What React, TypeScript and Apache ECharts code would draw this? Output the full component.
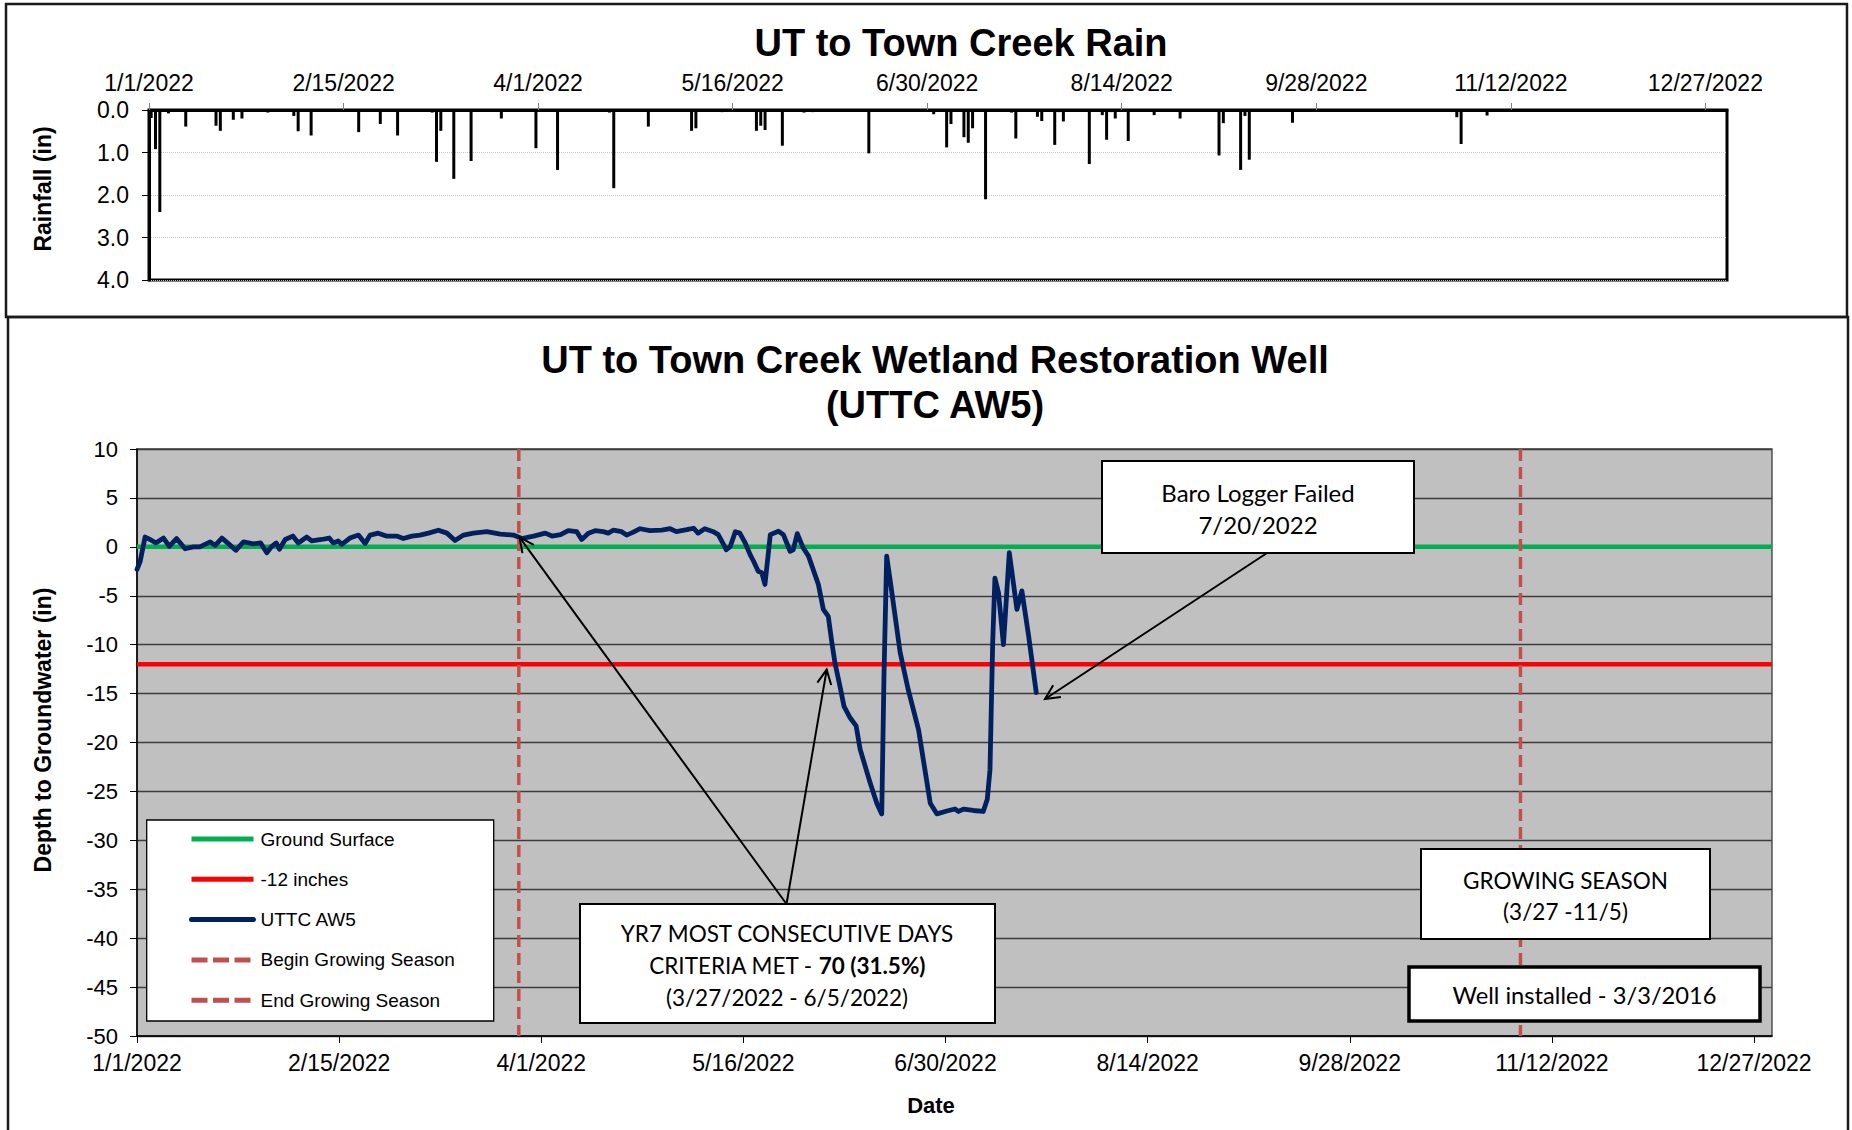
import React, { useEffect, useRef } from "react";
import * as echarts from "echarts";

// ---------- data ----------
const xTickLabels = ["1/1/2022", "2/15/2022", "4/1/2022", "5/16/2022", "6/30/2022", "8/14/2022", "9/28/2022", "11/12/2022", "12/27/2022"];
const dayInterval = 45;

// rainfall: day of year (0 = 1/1/2022) and inches
const rainDay = [0, 1, 2, 4, 8, 15, 16, 19, 21, 27, 33, 34, 37, 48, 53, 57, 65, 66, 67, 70, 74, 81, 89, 94, 101, 106, 107, 115, 125, 126, 132, 140, 141, 142, 146, 151, 153, 158, 162, 163, 166, 181, 183, 184, 185, 188, 189, 190, 193, 196, 199, 200, 205, 206, 209, 210, 211, 217, 220, 221, 222, 223, 226, 232, 238, 241, 247, 248, 252, 253, 254, 264, 284, 285, 298, 302, 303, 309];
const rainInches = [0.19, 0.92, 2.4, 0.08, 0.39, 0.37, 0.49, 0.23, 0.2, 0.06, 0.14, 0.5, 0.6, 0.52, 0.33, 0.6, 0.06, 1.22, 0.49, 1.62, 1.2, 0.2, 0.9, 1.41, 0.02, 0.06, 1.84, 0.39, 0.49, 0.43, 0.05, 0.49, 0.37, 0.47, 0.84, 0.06, 0.05, 0.03, 0.04, 0.04, 1.02, 0.1, 0.04, 0.88, 0.33, 0.64, 0.77, 0.43, 2.1, 0.03, 0.06, 0.67, 0.16, 0.26, 0.82, 0.05, 0.27, 1.27, 0.12, 0.7, 0.05, 0.2, 0.73, 0.12, 0.2, 0.03, 1.07, 0.31, 1.41, 0.14, 1.17, 0.3, 0.04, 0.03, 0.02, 0.17, 0.8, 0.13];

// well depth: day of year and inches
const wellDay = [0, 0.7, 1.8, 2.9, 4.2, 5.9, 7.2, 8.8, 10.7, 12.5, 14, 16.3, 17.4, 18.9, 20.4, 22, 23.7, 25.9, 27.5, 28.9, 30, 31, 31.7, 33, 34.7, 35.9, 37.8, 38.9, 41.1, 42.8, 43.7, 44.8, 45.6, 47.4, 49.3, 50.8, 51.9, 53.7, 55.5, 57.8, 59.3, 61.2, 63, 64.9, 67.1, 69, 70.8, 72.7, 74.9, 77.9, 80.9, 83.8, 85.7, 88.3, 90.9, 92.4, 94.3, 96, 97.9, 99, 100.5, 102, 103.8, 104.9, 106, 107.9, 109, 110.5, 112, 114.2, 116.8, 118.7, 120.1, 122.4, 123.9, 124.9, 126.4, 128.3, 129.4, 130.4, 131.2, 132.1, 133.2, 134.2, 135.4, 136.5, 137.3, 138.3, 139.1, 139.8, 141, 142.8, 143.9, 145.4, 146.1, 147, 148.3, 149.5, 151.7, 152.8, 153.9, 154.7, 155.4, 156.5, 157.4, 158.8, 160.1, 161, 163.2, 164.7, 165.8, 166.3, 166.9, 167.7, 169.9, 171.7, 174, 176.6, 178.1, 180.3, 182.1, 182.9, 184, 186.2, 188.4, 189.3, 189.9, 190.5, 191, 191.8, 192.9, 194.2, 195.9, 197, 198.5, 200.2];
const wellDepth = [-2.3, -1.5, 1.0, 0.75, 0.4, 0.9, 0.05, 0.85, -0.2, 0, 0, 0.5, 0.15, 0.9, 0.3, -0.35, 0.5, 0.3, 0.4, -0.6, 0.05, 0.4, -0.25, 0.75, 1.1, 0.4, 1.0, 0.6, 0.75, 0.9, 0.4, 0.6, 0.25, 0.9, 1.2, 0.35, 1.2, 1.4, 1.1, 1.1, 0.85, 1.1, 1.2, 1.4, 1.7, 1.4, 0.65, 1.2, 1.4, 1.55, 1.3, 1.2, 0.85, 1.1, 1.4, 1.1, 1.25, 1.65, 1.55, 0.75, 1.4, 1.65, 1.55, 1.4, 1.7, 1.55, 1.2, 1.5, 1.85, 1.65, 1.7, 1.85, 1.55, 1.75, 1.9, 1.4, 1.85, 1.55, 1.25, 0.4, -0.3, 0.05, 1.55, 1.4, 0.4, -0.8, -1.5, -2.5, -2.65, -3.85, 1.25, 1.6, 1.25, -0.45, -0.3, 1.35, -0.1, -0.95, -3.85, -6.4, -7.1, -9.8, -11.9, -14.25, -16.3, -17.5, -18.3, -20.7, -24.1, -26.2, -27.3, -13.2, -0.95, -3.5, -10.8, -14.6, -18.7, -26.2, -27.3, -27.0, -26.8, -27.05, -26.8, -26.95, -27.05, -25.8, -22.8, -9.8, -3.2, -4.7, -10.0, -0.6, -6.4, -4.5, -9.1, -14.9];

const groundSurface = 0;
const criteriaDepth = -12;
const growingStartDay = 85; // 3/27
const growingEndDay = 308; // 11/5
const legendNames = ["Ground Surface", "-12 inches", "UTTC AW5", "Begin Growing Season", "End Growing Season"];

// ---------- helpers ----------
const SANS = "'Liberation Sans', Arial, sans-serif";
const BOX = "Lato, 'Open Sans', sans-serif";

function fmtDay(v: number) {
  if (v % dayInterval !== 0) return "";
  return xTickLabels[Math.round(v / dayInterval)] ?? "";
}

function arrow(x1: number, y1: number, x2: number, y2: number, z: number) {
  const ang = Math.atan2(y2 - y1, x2 - x1);
  const L = 16;
  const a = (26 * Math.PI) / 180;
  const w1 = [x2 - L * Math.cos(ang - a), y2 - L * Math.sin(ang - a)];
  const w2 = [x2 - L * Math.cos(ang + a), y2 - L * Math.sin(ang + a)];
  return [
    { type: "line", z, shape: { x1, y1, x2, y2 }, style: { stroke: "#000", lineWidth: 2 } },
    { type: "polyline", z, shape: { points: [w1, [x2, y2], w2] }, style: { stroke: "#000", lineWidth: 2, fill: null } },
  ];
}

function boxRect(x: number, y: number, w: number, h: number, lw: number, z: number) {
  return { type: "rect", z, shape: { x, y, width: w, height: h }, style: { fill: "#fff", stroke: "#000", lineWidth: lw } };
}

export default function App() {
  const ref = useRef<HTMLDivElement>(null);

  useEffect(() => {
    if (!ref.current) return;
    const chart = echarts.init(ref.current, undefined, { renderer: "svg" });

    const rainData = rainDay.map((d, i) => [d + 0.5, rainInches[i]]);
    const wellData = wellDay.map((d, i) => [d, wellDepth[i]]);

    const legendData = legendNames.map((n, i) =>
      i >= 3 ? { name: n, lineStyle: { type: [16, 5.5], width: 5, cap: "butt" } } : { name: n }
    );

    const option: any = {
      animation: false,
      backgroundColor: "#fff",
      grid: [
        { left: 149, top: 110, width: 1578, height: 170, show: true, backgroundColor: "#fff", borderColor: "#000", borderWidth: 3, containLabel: false },
        { left: 137, top: 449, width: 1635, height: 587, show: true, backgroundColor: "#C0C0C0", borderColor: "#3c3c3c", borderWidth: 1.3, containLabel: false },
      ],
      xAxis: [
        {
          gridIndex: 0, type: "value", position: "top", min: 0, max: 365, interval: dayInterval,
          axisLine: { show: true, onZero: false, lineStyle: { color: "#000", width: 3 } },
          axisTick: { show: true, length: 7, lineStyle: { color: "#808080", width: 1 } },
          axisLabel: { formatter: fmtDay, showMaxLabel: false, margin: 16, fontFamily: SANS, fontSize: 23, color: "#000" },
          splitLine: { show: false },
        },
        {
          gridIndex: 1, type: "value", position: "bottom", min: 0, max: 364, interval: dayInterval,
          axisLine: { show: true, onZero: false, lineStyle: { color: "#000", width: 1.5 } },
          axisTick: { show: true, length: 7, lineStyle: { color: "#000", width: 1 } },
          axisLabel: { formatter: fmtDay, showMaxLabel: false, margin: 15, fontFamily: SANS, fontSize: 23, color: "#000" },
          splitLine: { show: false },
        },
      ],
      yAxis: [
        {
          gridIndex: 0, type: "value", inverse: true, min: 0, max: 4, interval: 1,
          axisLine: { show: true, onZero: false, lineStyle: { color: "#000", width: 3 } },
          axisTick: { show: true, length: 7, lineStyle: { color: "#000", width: 1 } },
          axisLabel: { formatter: (v: number) => v.toFixed(1), margin: 20, fontFamily: SANS, fontSize: 23, color: "#000" },
          splitLine: { show: true, lineStyle: { color: "#c8c8c8", type: "dotted", width: 1 } },
        },
        {
          gridIndex: 1, type: "value", min: -50, max: 10, interval: 5,
          axisLine: { show: true, onZero: false, lineStyle: { color: "#000", width: 1.5 } },
          axisTick: { show: true, length: 7, lineStyle: { color: "#000", width: 1 } },
          axisLabel: { margin: 19, fontFamily: SANS, fontSize: 22, color: "#000" },
          splitLine: { show: true, lineStyle: { color: "#3c3c3c", width: 1.3 } },
        },
      ],
      legend: {
        data: legendData,
        orient: "vertical",
        left: 189,
        top: 829.5,
        padding: 0,
        itemWidth: 62,
        itemHeight: 14,
        itemGap: 21.3,
        z: 20,
        selectedMode: false,
        itemStyle: { opacity: 0, borderWidth: 0 },
        lineStyle: { width: 5 },
        textStyle: { fontFamily: SANS, fontSize: 19, color: "#000", padding: [0, 0, 0, 2] },
      },
      series: [
        { name: "Rain", type: "bar", xAxisIndex: 0, yAxisIndex: 0, data: rainData, barWidth: 3, itemStyle: { color: "#000" } },
        { name: legendNames[0], type: "line", xAxisIndex: 1, yAxisIndex: 1, symbol: "none", data: [[0, groundSurface], [364, groundSurface]], lineStyle: { color: "#00B050", width: 4.5 }, itemStyle: { color: "#00B050" }, z: 3 },
        { name: legendNames[1], type: "line", xAxisIndex: 1, yAxisIndex: 1, symbol: "none", data: [[0, criteriaDepth], [364, criteriaDepth]], lineStyle: { color: "#FF0000", width: 4.5 }, itemStyle: { color: "#FF0000" }, z: 3 },
        { name: legendNames[2], type: "line", xAxisIndex: 1, yAxisIndex: 1, symbol: "none", data: wellData, lineStyle: { color: "#002060", width: 4.8, join: "round", cap: "round" }, itemStyle: { color: "#002060" }, z: 4 },
        { name: legendNames[3], type: "line", xAxisIndex: 1, yAxisIndex: 1, symbol: "none", data: [[growingStartDay, 10], [growingStartDay, -50]], lineStyle: { color: "#C0504D", width: 3.5, type: [12, 6] }, itemStyle: { color: "#C0504D" }, z: 5 },
        { name: legendNames[4], type: "line", xAxisIndex: 1, yAxisIndex: 1, symbol: "none", data: [[growingEndDay, 10], [growingEndDay, -50]], lineStyle: { color: "#C0504D", width: 3.5, type: [12, 6] }, itemStyle: { color: "#C0504D" }, z: 5 },
      ],
      graphic: [
        // frames
        { type: "rect", z: 1, shape: { x: 6, y: 4, width: 1841, height: 313 }, style: { fill: null, stroke: "#1a1a1a", lineWidth: 2.5 } },
        { type: "rect", z: 1, shape: { x: 8, y: 317, width: 1840, height: 830 }, style: { fill: null, stroke: "#1a1a1a", lineWidth: 2.5 } },
        // titles
        { type: "text", z: 10, x: 961, y: 42.5, style: { text: "UT to Town Creek Rain", font: `bold 38px ${SANS}`, fill: "#000", align: "center", verticalAlign: "middle" } },
        { type: "text", z: 10, x: 935, y: 360, style: { text: "UT to Town Creek Wetland Restoration Well", font: `bold 38px ${SANS}`, fill: "#000", align: "center", verticalAlign: "middle" } },
        { type: "text", z: 10, x: 935, y: 405, style: { text: "(UTTC AW5)", font: `bold 38px ${SANS}`, fill: "#000", align: "center", verticalAlign: "middle" } },
        // axis names
        { type: "text", z: 10, x: 42.5, y: 189, rotation: Math.PI / 2, style: { text: "Rainfall (in)", font: `bold 23px ${SANS}`, fill: "#000", align: "center", verticalAlign: "middle" } },
        { type: "text", z: 10, x: 42.5, y: 730, rotation: Math.PI / 2, style: { text: "Depth to Groundwater (in)", font: `bold 23px ${SANS}`, fill: "#000", align: "center", verticalAlign: "middle" } },
        { type: "text", z: 10, x: 931, y: 1105, style: { text: "Date", font: `bold 22px ${SANS}`, fill: "#000", align: "center", verticalAlign: "middle" } },
        // legend box
        { type: "rect", z: 10, shape: { x: 146.7, y: 820, width: 347, height: 201 }, style: { fill: "#fff", stroke: "#000", lineWidth: 1.3 } },
        // Baro logger box
        boxRect(1102, 461, 312, 92, 2, 30),
        { type: "text", z: 31, x: 1258, y: 508, style: { text: "Baro Logger Failed\n7/20/2022", font: `24px ${BOX}`, lineHeight: 32, fill: "#000", align: "center", verticalAlign: "middle" } },
        ...arrow(1267, 553, 1045, 699, 30),
        // YR7 box
        boxRect(580, 904, 415, 119, 2, 30),
        {
          type: "text", z: 31, x: 787, y: 965,
          style: {
            text: "{a|YR7 MOST CONSECUTIVE DAYS}\n{a|CRITERIA MET - }{b|70 (31.5%)}\n{a|(3/27/2022 - 6/5/2022)}",
            align: "center", verticalAlign: "middle",
            rich: {
              a: { fontFamily: BOX, fontSize: 22.5, lineHeight: 32, color: "#000" },
              b: { fontFamily: BOX, fontSize: 22.5, fontWeight: "bold", lineHeight: 32, color: "#000" },
            },
          },
        },
        ...arrow(786.5, 904, 519.6, 537.3, 30),
        ...arrow(786.5, 904, 826.7, 669.6, 30),
        // growing season box
        boxRect(1421, 849, 289, 90, 2, 30),
        { type: "text", z: 31, x: 1565.5, y: 895.5, style: { text: "GROWING SEASON\n(3/27 -11/5)", font: `22.5px ${BOX}`, lineHeight: 31, fill: "#000", align: "center", verticalAlign: "middle" } },
        // well installed box
        boxRect(1409, 967, 351, 54, 3.5, 30),
        { type: "text", z: 31, x: 1584.5, y: 995, style: { text: "Well installed - 3/3/2016", font: `23.7px ${BOX}`, fill: "#000", align: "center", verticalAlign: "middle" } },
      ],
    };

    chart.setOption(option);
    return () => chart.dispose();
  }, []);

  return <div ref={ref} style={{ position: "absolute", left: 0, top: 0, width: 1852, height: 1130, background: "#fff" }} />;
}
